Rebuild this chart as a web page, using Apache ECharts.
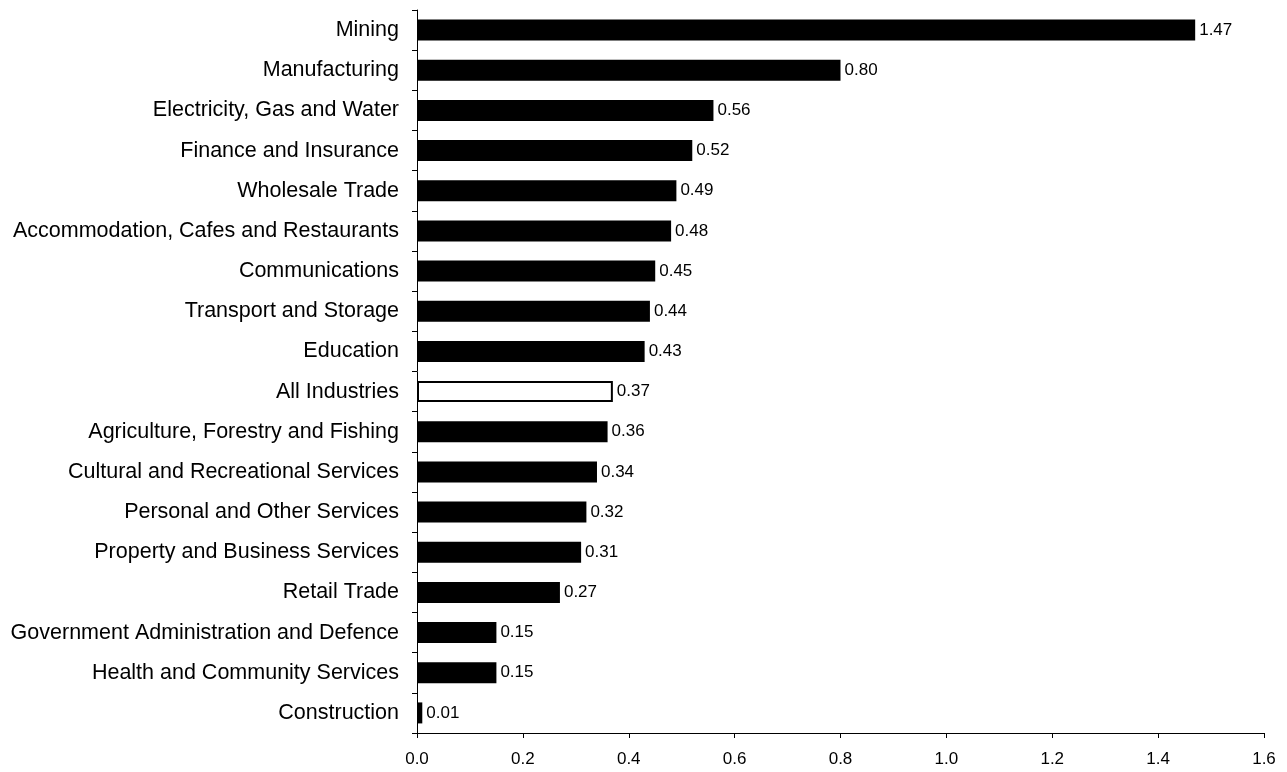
<!DOCTYPE html>
<html>
<head>
<meta charset="utf-8">
<script src="https://cdn.jsdelivr.net/npm/echarts@6/dist/echarts.min.js"></script>
<style>
html,body{margin:0;padding:0;background:#fff;}
#chart{width:1287px;height:772px;}
</style>
</head>
<body>
<div id="chart"></div>
<script>
const categories = [
  "Mining",
  "Manufacturing",
  "Electricity, Gas and Water",
  "Finance and Insurance",
  "Wholesale Trade",
  "Accommodation, Cafes and Restaurants",
  "Communications",
  "Transport and Storage",
  "Education",
  "All Industries",
  "Agriculture, Forestry and Fishing",
  "Cultural and Recreational Services",
  "Personal and Other Services",
  "Property and Business Services",
  "Retail Trade",
  "Government Administration and Defence",
  "Health and Community Services",
  "Construction"
];
const values = [1.47, 0.80, 0.56, 0.52, 0.49, 0.48, 0.45, 0.44, 0.43, 0.37, 0.36, 0.34, 0.32, 0.31, 0.27, 0.15, 0.15, 0.01];
const highlightCategory = "All Industries";

const FONT = "Liberation Sans, Arial, sans-serif";
const chart = echarts.init(document.getElementById('chart'), null, {renderer: 'canvas'});

const seriesData = categories.map((c, i) => {
  if (c === highlightCategory) {
    return {value: values[i], itemStyle: {color: '#ffffff', borderColor: '#000000', borderWidth: 2}};
  }
  return {value: values[i]};
});

chart.setOption({
  animation: false,
  backgroundColor: '#ffffff',
  grid: {left: 417, right: 23, top: 10, bottom: 39, containLabel: false},
  xAxis: {
    type: 'value',
    min: 0, max: 1.6, interval: 0.2,
    axisLine: {show: true, lineStyle: {color: '#000', width: 1}},
    axisTick: {show: true, length: 5, lineStyle: {color: '#000'}},
    splitLine: {show: false},
    axisLabel: {color: '#000', fontFamily: FONT, fontSize: 17, margin: 18,
      formatter: v => v.toFixed(1)}
  },
  yAxis: {
    type: 'category',
    data: categories,
    inverse: true,
    axisLine: {show: true, lineStyle: {color: '#000', width: 1}},
    axisTick: {show: true, length: 5, lineStyle: {color: '#000'}},
    axisLabel: {color: '#000', fontFamily: FONT, fontSize: 21.5, margin: 18}
  },
  series: [{
    type: 'bar',
    data: seriesData,
    barWidth: 21,
    itemStyle: {color: '#000000'},
    label: {show: true, position: 'right', distance: 4, color: '#000',
      fontFamily: FONT, fontSize: 17,
      formatter: p => p.value.toFixed(2)}
  }]
});
</script>
</body>
</html>
